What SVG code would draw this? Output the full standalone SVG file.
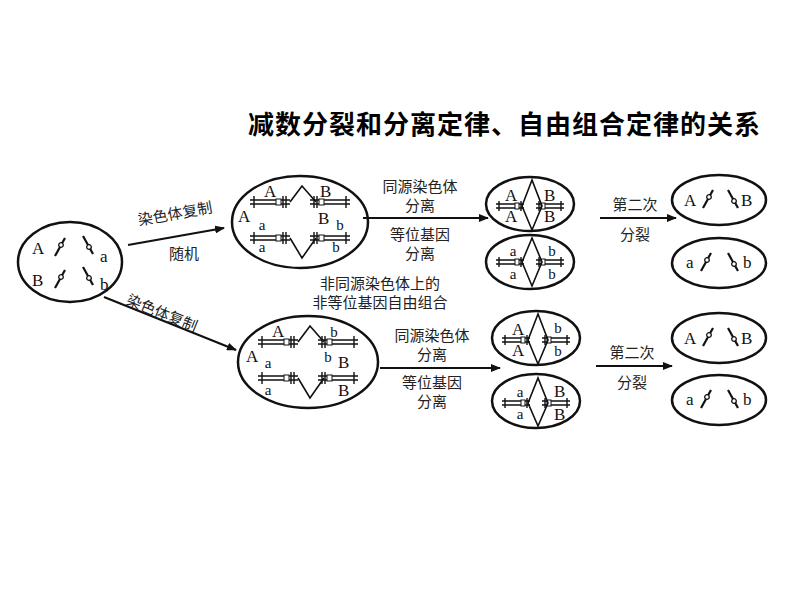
<svg xmlns="http://www.w3.org/2000/svg" xmlns:xlink="http://www.w3.org/1999/xlink" width="800" height="600" viewBox="0 0 800 600">
<style>
.cell{fill:none;stroke:#111;stroke-width:2.5}
.ln{fill:none;stroke:#111;stroke-width:1.6}
.ar{fill:none;stroke:#111;stroke-width:2.2;marker-end:url(#ah)}
.t{font-family:"Liberation Serif",serif;font-size:17px;fill:#111}
.g{font-family:"Liberation Serif",serif;font-size:15px;fill:#111;text-anchor:middle}
.c{font-family:"Noto Sans CJK SC",sans-serif;font-size:15px;fill:#222;text-anchor:middle}
.title{font-family:"Noto Sans CJK SC",sans-serif;font-size:26px;letter-spacing:1px;font-weight:bold;fill:#000}
</style>
<defs>
<marker id="ah" markerWidth="10" markerHeight="8" refX="9" refY="4" orient="auto" markerUnits="userSpaceOnUse"><path d="M0,0 L10,4 L0,8 Z" fill="#111"/></marker>
<g id="chr"><path d="M-20,-2 H20 M-20,2 H20 M-16,-6 V6 M16,-6 V6 M13,-6 V6" stroke="#111" stroke-width="1.4" fill="none"/><rect x="6" y="-3" width="5" height="6" fill="#fff" stroke="#111" stroke-width="1"/></g>
<g id="chs"><path d="M-14,-2 H14 M-14,2 H14 M-11,-5 V5 M11,-5 V5" stroke="#111" stroke-width="1.4" fill="none"/><rect x="5" y="-3" width="4" height="6" fill="#fff" stroke="#111" stroke-width="1"/></g>
<g id="mono"><path d="M-5,9 L5,-9" stroke="#111" stroke-width="2.2"/><circle cx="1" cy="-2" r="2.3" fill="#fff" stroke="#111" stroke-width="1.3"/></g>
<g id="monor"><path d="M-5,-9 L5,9" stroke="#111" stroke-width="2.2"/><circle cx="1" cy="2" r="2.3" fill="#fff" stroke="#111" stroke-width="1.3"/></g>
</defs>
<text class="title" x="248" y="134">减数分裂和分离定律、自由组合定律的关系</text>

<g id="cell0">
<ellipse class="cell" cx="70" cy="262" rx="52" ry="40"/>
<text class="t" x="32" y="254">A</text><use xlink:href="#mono" x="60" y="247"/>
<use xlink:href="#monor" x="88" y="245"/><text class="t" x="100" y="262">a</text>
<text class="t" x="32" y="286">B</text><use xlink:href="#mono" x="60" y="279"/>
<use xlink:href="#monor" x="88" y="276"/><text class="t" x="100" y="290">b</text>
</g>

<g id="cellTop">
<ellipse class="cell" cx="300" cy="222" rx="68" ry="46"/>
<use xlink:href="#chr" x="270" y="202"/><use xlink:href="#chr" x="270" y="238"/>
<use xlink:href="#chr" x="330" y="202" transform="translate(660,0) scale(-1,1)"/><use xlink:href="#chr" x="330" y="238" transform="translate(660,0) scale(-1,1)"/>
<path class="ln" d="M290,202 L302,186 L316,202 M290,238 L302,258 L316,238"/>
<text class="t" x="264" y="197">A</text><text class="t" x="320" y="197">B</text>
<text class="t" x="238" y="222">A</text><text class="g" x="262" y="230">a</text>
<text class="t" x="318" y="224">B</text><text class="g" x="340" y="230">b</text>
<text class="g" x="262" y="252">a</text><text class="g" x="336" y="252">b</text>
</g>

<g id="cellBot">
<ellipse class="cell" cx="308" cy="362" rx="70" ry="46"/>
<use xlink:href="#chr" x="278" y="342"/><use xlink:href="#chr" x="278" y="378"/>
<use xlink:href="#chr" x="338" y="342" transform="translate(676,0) scale(-1,1)"/><use xlink:href="#chr" x="338" y="378" transform="translate(676,0) scale(-1,1)"/>
<path class="ln" d="M298,342 L310,326 L324,342 M298,378 L310,398 L324,378"/>
<text class="t" x="272" y="337">A</text><text class="g" x="334" y="337">b</text>
<text class="t" x="246" y="362">A</text><text class="g" x="268" y="368">a</text>
<text class="g" x="328" y="362">b</text><text class="t" x="338" y="368">B</text>
<text class="g" x="268" y="395">a</text><text class="t" x="338" y="396">B</text>
</g>

<g id="c1"><ellipse class="cell" cx="530" cy="204" rx="44" ry="27"/>
<use xlink:href="#chs" x="510" y="206"/><use xlink:href="#chs" x="550" y="206" transform="translate(1100,0) scale(-1,1)"/>
<path class="ln" d="M522,206 L532,180 L542,206 L532,230 Z"/>
<text class="t" x="505" y="201">A</text><text class="t" x="505" y="222">A</text><text class="t" x="544" y="201">B</text><text class="t" x="544" y="222">B</text></g>
<g id="c2"><ellipse class="cell" cx="530" cy="262" rx="44" ry="27"/>
<use xlink:href="#chs" x="510" y="262"/><use xlink:href="#chs" x="550" y="262" transform="translate(1100,0) scale(-1,1)"/>
<path class="ln" d="M522,262 L532,238 L542,262 L532,286 Z"/>
<text class="g" x="513" y="256">a</text><text class="g" x="513" y="279">a</text><text class="g" x="552" y="256">b</text><text class="g" x="552" y="279">b</text></g>
<g id="c3"><ellipse class="cell" cx="536" cy="338" rx="44" ry="27"/>
<use xlink:href="#chs" x="516" y="340"/><use xlink:href="#chs" x="556" y="340" transform="translate(1112,0) scale(-1,1)"/>
<path class="ln" d="M528,340 L538,314 L548,340 L538,364 Z"/>
<text class="t" x="512" y="335">A</text><text class="t" x="512" y="356">A</text><text class="g" x="558" y="333">b</text><text class="g" x="558" y="356">b</text></g>
<g id="c4"><ellipse class="cell" cx="536" cy="401" rx="44" ry="27"/>
<use xlink:href="#chs" x="516" y="403"/><use xlink:href="#chs" x="556" y="403" transform="translate(1112,0) scale(-1,1)"/>
<path class="ln" d="M528,403 L538,378 L548,403 L538,426 Z"/>
<text class="g" x="520" y="397">a</text><text class="g" x="520" y="419">a</text><text class="t" x="554" y="397">B</text><text class="t" x="554" y="420">B</text></g>

<g id="f1"><ellipse class="cell" cx="719" cy="200" rx="47" ry="25"/><text class="t" x="684" y="206">A</text><use xlink:href="#mono" x="708" y="199"/><use xlink:href="#monor" x="733" y="199"/><text class="t" x="741" y="206">B</text></g>
<g id="f2"><ellipse class="cell" cx="719" cy="263" rx="47" ry="25"/><text class="t" x="686" y="268">a</text><use xlink:href="#mono" x="706" y="262"/><use xlink:href="#monor" x="733" y="262"/><text class="t" x="743" y="268">b</text></g>
<g id="f3"><ellipse class="cell" cx="719" cy="338" rx="47" ry="25"/><text class="t" x="684" y="344">A</text><use xlink:href="#mono" x="708" y="337"/><use xlink:href="#monor" x="733" y="337"/><text class="t" x="741" y="344">B</text></g>
<g id="f4"><ellipse class="cell" cx="719" cy="400" rx="47" ry="25"/><text class="t" x="686" y="405">a</text><use xlink:href="#mono" x="706" y="399"/><use xlink:href="#monor" x="733" y="399"/><text class="t" x="743" y="405">b</text></g>

<g id="connectors">
<line class="ar" x1="128" y1="245" x2="224" y2="228"/>
<text class="c" transform="translate(176,219) rotate(-10)">染色体复制</text>
<text class="c" x="184" y="259">随机</text>
<line class="ar" x1="104" y1="297" x2="236" y2="350"/>
<text class="c" transform="translate(160,318) rotate(22)">染色体复制</text>
<line class="ar" x1="363" y1="218" x2="488" y2="218"/>
<text class="c" x="420" y="192">同源染色体</text><text class="c" x="420" y="211">分离</text>
<text class="c" x="420" y="240">等位基因</text><text class="c" x="420" y="259">分离</text>
<text class="c" x="380" y="289">非同源染色体上的</text><text class="c" x="380" y="308">非等位基因自由组合</text>
<line class="ar" x1="380" y1="368" x2="500" y2="368"/>
<text class="c" x="432" y="341">同源染色体</text><text class="c" x="432" y="360">分离</text>
<text class="c" x="432" y="388">等位基因</text><text class="c" x="432" y="407">分离</text>
<line class="ar" x1="600" y1="218" x2="676" y2="218"/>
<text class="c" x="635" y="210">第二次</text><text class="c" x="635" y="240">分裂</text>
<line class="ar" x1="596" y1="366" x2="672" y2="366"/>
<text class="c" x="632" y="358">第二次</text><text class="c" x="632" y="388">分裂</text>
</g>
</svg>
